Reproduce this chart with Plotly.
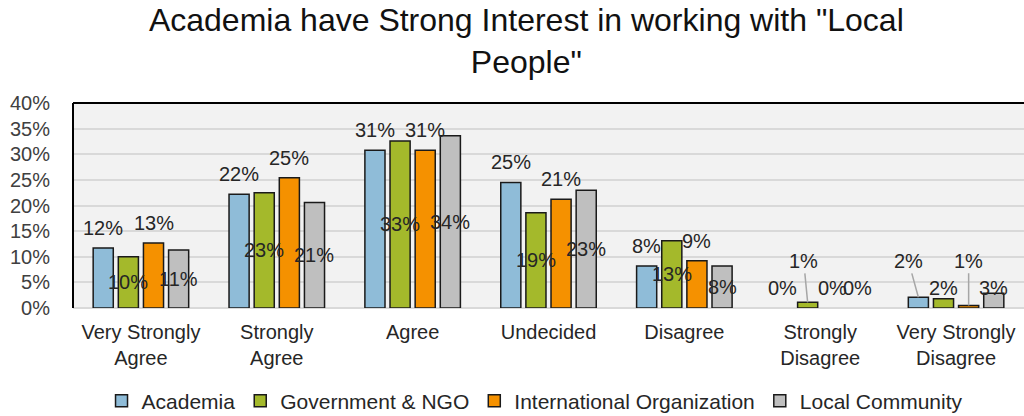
import plotly.graph_objects as go

categories = ["Very Strongly<br>Agree", "Strongly<br>Agree", "Agree", "Undecided",
              "Disagree", "Strongly<br>Disagree", "Very Strongly<br>Disagree"]
series_names = ["Academia", "Government & NGO", "International Organization", "Local Community"]
academia = [11.7, 22.2, 30.8, 24.5, 8.2, 0.0, 2.1]
government_ngo = [10.0, 22.5, 32.6, 18.6, 13.1, 1.1, 1.8]
international_org = [12.7, 25.4, 30.8, 21.2, 9.2, 0.0, 0.5]
local_community = [11.3, 20.6, 33.6, 23.0, 8.2, 0.0, 2.9]
values = [academia, government_ngo, international_org, local_community]

# styling
colors = ["#8fbcd8", "#a4b92b", "#f59100", "#bfbfbf"]
label_modes = [
    ["top", "top", "top", "top", "top", "base", "lead"],
    ["mid", "mid", "mid", "mid", "mid", "lead", "base"],
    ["top", "top", "top", "top", "top", "base", "lead"],
    ["mid", "mid", "mid", "mid", "mid", "base", "base"],
]
lead_dx = {(1, 5): -4, (0, 6): -10, (2, 6): 0}
LEAD_Y = 9.2
BARGAP = 0.26
GROUPGAP = 0.2
FONT = "Liberation Sans, Arial, sans-serif"
TXT = "#262626"

fig = go.Figure()
for name, vals, col in zip(series_names, values, colors):
    fig.add_trace(go.Bar(
        name=name, x=categories, y=vals,
        marker=dict(color=col, line=dict(color="#1a1a1a",
                                         width=[0 if v == 0 else 1.5 for v in vals])),
    ))

n = len(values)
slot = (1 - BARGAP) / n
annotations = []
for i, vals in enumerate(values):
    off = (i - (n - 1) / 2) * slot
    for j, v in enumerate(vals):
        txt = f"{int(v + 0.5)}%"
        mode = label_modes[i][j]
        base = dict(x=j + off, xref="x", yref="y", text=txt,
                    font=dict(family=FONT, size=20, color=TXT))
        if mode == "top":
            annotations.append(dict(base, y=v, yshift=20, showarrow=False, yanchor="middle"))
        elif mode == "mid":
            annotations.append(dict(base, y=v / 2, showarrow=False, yanchor="middle"))
        elif mode == "base":
            annotations.append(dict(base, y=0, yshift=20, showarrow=False, yanchor="middle"))
        else:
            annotations.append(dict(base, y=v, showarrow=True, arrowhead=0, arrowwidth=1.5,
                                    arrowcolor="#a6a6a6", standoff=0,
                                    axref="pixel", ax=lead_dx.get((i, j), 0),
                                    ayref="y", ay=LEAD_Y))

fig.update_layout(
    width=1024, height=416,
    margin=dict(l=73, r=0, t=103, b=108),
    paper_bgcolor="white", plot_bgcolor="#f2f2f2",
    barmode="group", bargap=BARGAP, bargroupgap=GROUPGAP,
    title=dict(text='Academia have Strong Interest in working with "Local<br>People"',
               x=0.514, xanchor="center", y=0.925, yanchor="top",
               font=dict(family=FONT, size=32, color="#111111")),
    font=dict(family=FONT, color=TXT),
    xaxis=dict(type="category", tickfont=dict(family=FONT, size=20, color=TXT),
               ticks="outside", ticklen=6, tickcolor="rgba(0,0,0,0)",
               showline=False, showgrid=False),
    yaxis=dict(range=[0, 40], dtick=5, ticksuffix="%",
               tickfont=dict(family=FONT, size=20, color="#404040"),
               ticks="outside", ticklen=18, tickcolor="rgba(0,0,0,0)",
               showgrid=True, gridcolor="#d9d9d9", gridwidth=2,
               zeroline=True, zerolinecolor="#d9d9d9", zerolinewidth=2),
    legend=dict(orientation="h", xref="container", yref="container",
                x=0.522, xanchor="center", y=0.036, yanchor="middle",
                font=dict(family=FONT, size=21, color=TXT), itemwidth=30,
                traceorder="normal"),
    annotations=annotations,
    shapes=[
        dict(type="line", xref="paper", yref="paper", x0=0, x1=1, y0=1, y1=1,
             line=dict(color="#000000", width=2)),
        dict(type="line", xref="paper", yref="paper", x0=0, x1=0, y0=0, y1=1,
             line=dict(color="#000000", width=2)),
    ],
)

fig.write_html("out.html")
